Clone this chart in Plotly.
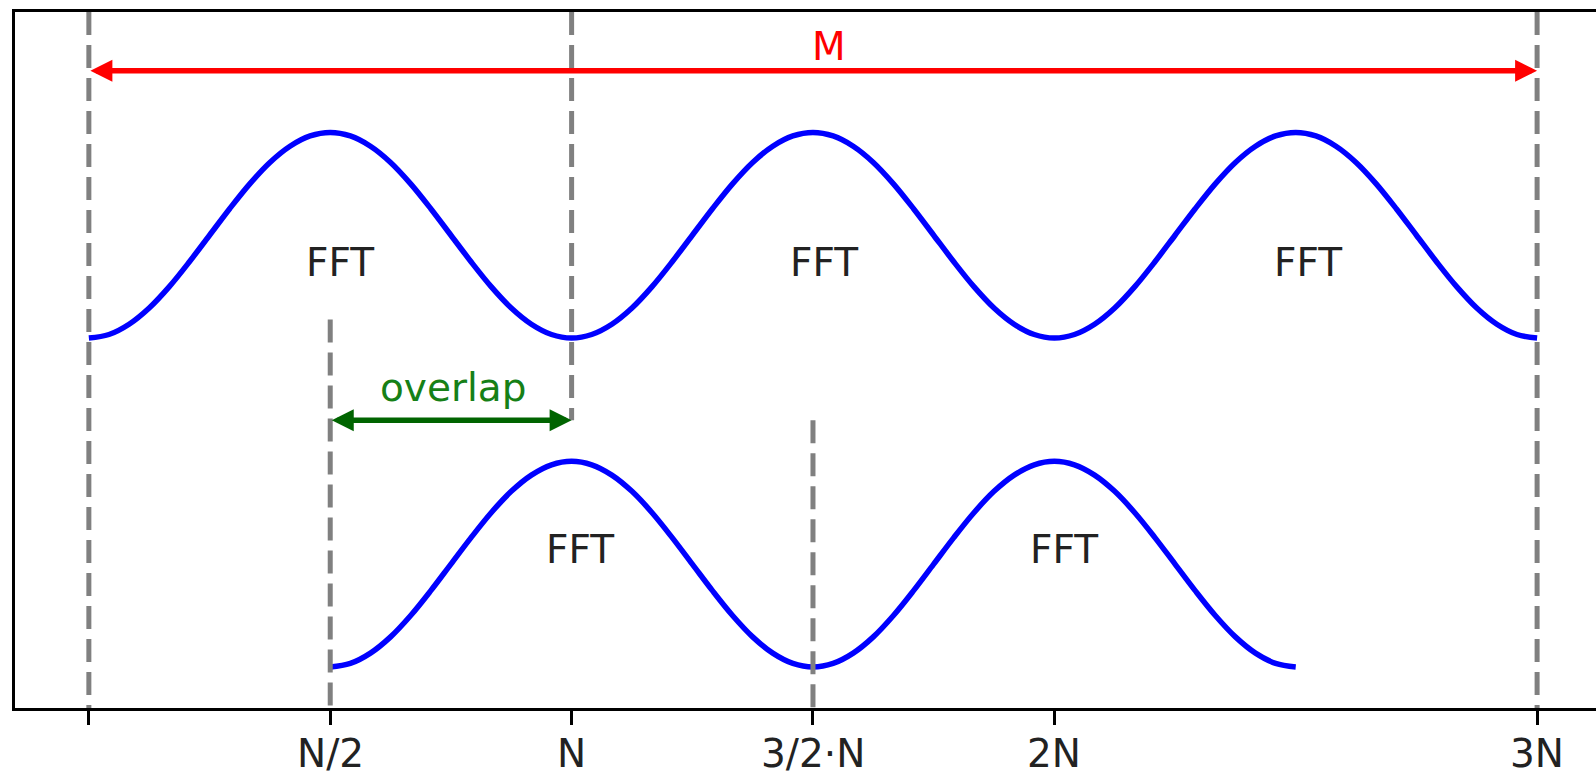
import plotly.graph_objects as go

# ---- data ----
# x in units of N, sampled every N/24
upper_x = [i / 24 for i in range(73)]
upper_y = [1.6, 1.617, 1.667, 1.746, 1.85, 1.971, 2.1, 2.229, 2.35, 2.454, 2.533, 2.583,
           2.6, 2.583, 2.533, 2.454, 2.35, 2.229, 2.1, 1.971, 1.85, 1.746, 1.667, 1.617,
           1.6, 1.617, 1.667, 1.746, 1.85, 1.971, 2.1, 2.229, 2.35, 2.454, 2.533, 2.583,
           2.6, 2.583, 2.533, 2.454, 2.35, 2.229, 2.1, 1.971, 1.85, 1.746, 1.667, 1.617,
           1.6, 1.617, 1.667, 1.746, 1.85, 1.971, 2.1, 2.229, 2.35, 2.454, 2.533, 2.583,
           2.6, 2.583, 2.533, 2.454, 2.35, 2.229, 2.1, 1.971, 1.85, 1.746, 1.667, 1.617,
           1.6]
lower_x = [0.5 + i / 24 for i in range(49)]
lower_y = [0.0, 0.017, 0.067, 0.146, 0.25, 0.371, 0.5, 0.629, 0.75, 0.854, 0.933, 0.983,
           1.0, 0.983, 0.933, 0.854, 0.75, 0.629, 0.5, 0.371, 0.25, 0.146, 0.067, 0.017,
           0.0, 0.017, 0.067, 0.146, 0.25, 0.371, 0.5, 0.629, 0.75, 0.854, 0.933, 0.983,
           1.0, 0.983, 0.933, 0.854, 0.75, 0.629, 0.5, 0.371, 0.25, 0.146, 0.067, 0.017,
           0.0]

tick_vals = [0, 0.5, 1, 1.5, 2, 3]
tick_text = ["", "N/2", "N", "3/2·N", "2N", "3N"]

# vertical dashed guides: x, y_from, y_to
guide_x = [0, 1, 3, 0.5, 1.5]
guide_y0 = [-0.2, 1.2, -0.2, -0.2, -0.2]
guide_y1 = [3.186, 3.186, 3.186, 1.69, 1.2]

fft_x = [0.521, 1.523, 2.525, 1.017, 2.019]
fft_y = [1.966, 1.966, 1.966, 0.569, 0.569]

m_arrow = (0.0, 3.0, 2.9)
ov_arrow = (0.5, 1.0, 1.2)

X_RANGE = [-0.153, 3.122]
Y_RANGE = [-0.2, 3.186]
FONT = "DejaVu Sans"

fig = go.Figure()
fig.add_trace(go.Scatter(x=upper_x, y=upper_y, mode="lines",
                         line=dict(color="#0000ff", width=5.5, shape="spline", smoothing=1.0),
                         hoverinfo="skip", showlegend=False))
fig.add_trace(go.Scatter(x=lower_x, y=lower_y, mode="lines",
                         line=dict(color="#0000ff", width=5.5, shape="spline", smoothing=1.0),
                         hoverinfo="skip", showlegend=False))

for gx, g0, g1 in zip(guide_x, guide_y0, guide_y1):
    fig.add_shape(type="line", xref="x", yref="y", x0=gx, x1=gx, y0=g1, y1=g0,
                  line=dict(color="#808080", width=5, dash="23px,10px"), layer="above")

for fx, fy in zip(fft_x, fft_y):
    fig.add_annotation(x=fx, y=fy, text="FFT", showarrow=False,
                       font=dict(family=FONT, size=39, color="#222222"))

# M arrow
fig.add_annotation(x=m_arrow[1], y=m_arrow[2], ax=m_arrow[0], ay=m_arrow[2],
                   xref="x", yref="y", axref="x", ayref="y", text="",
                   showarrow=True, arrowhead=2, startarrowhead=2, arrowside="end+start",
                   arrowsize=0.8, startarrowsize=0.8, arrowwidth=5.5, arrowcolor="#ff0000")
fig.add_annotation(x=1.534, y=3.02, text="M", showarrow=False,
                   font=dict(family=FONT, size=39, color="#ff0000"))

# overlap arrow
fig.add_annotation(x=ov_arrow[1], y=ov_arrow[2], ax=ov_arrow[0], ay=ov_arrow[2],
                   xref="x", yref="y", axref="x", ayref="y", text="",
                   showarrow=True, arrowhead=2, startarrowhead=2, arrowside="end+start",
                   arrowsize=0.8, startarrowsize=0.8, arrowwidth=5.5, arrowcolor="#006400")
fig.add_annotation(x=0.755, y=1.36, text="overlap", showarrow=False,
                   font=dict(family=FONT, size=39, color="#168016"))

# tick labels as annotations below the axis
for tv, tt in zip(tick_vals, tick_text):
    if tt:
        fig.add_annotation(x=tv, xref="x", y=0, yref="paper", yanchor="middle",
                           yshift=-45, text=tt, showarrow=False,
                           font=dict(family=FONT, size=39, color="#222222"))

fig.update_layout(
    width=1596, height=776, autosize=False,
    margin=dict(l=15, r=0, t=12, b=68, autoexpand=False),
    paper_bgcolor="white", plot_bgcolor="white",
    showlegend=False,
)
fig.update_xaxes(range=X_RANGE, showgrid=False, zeroline=False, automargin=False,
                 showline=True, linecolor="black", linewidth=2.5, mirror=True,
                 tickmode="array", tickvals=tick_vals, showticklabels=False,
                 ticks="outside", ticklen=14, tickwidth=2.5, tickcolor="black")
fig.update_yaxes(range=Y_RANGE, showgrid=False, zeroline=False, automargin=False,
                 showline=True, linecolor="black", linewidth=2.5, mirror=False,
                 showticklabels=False, ticks="")

fig.write_html("out.html")
